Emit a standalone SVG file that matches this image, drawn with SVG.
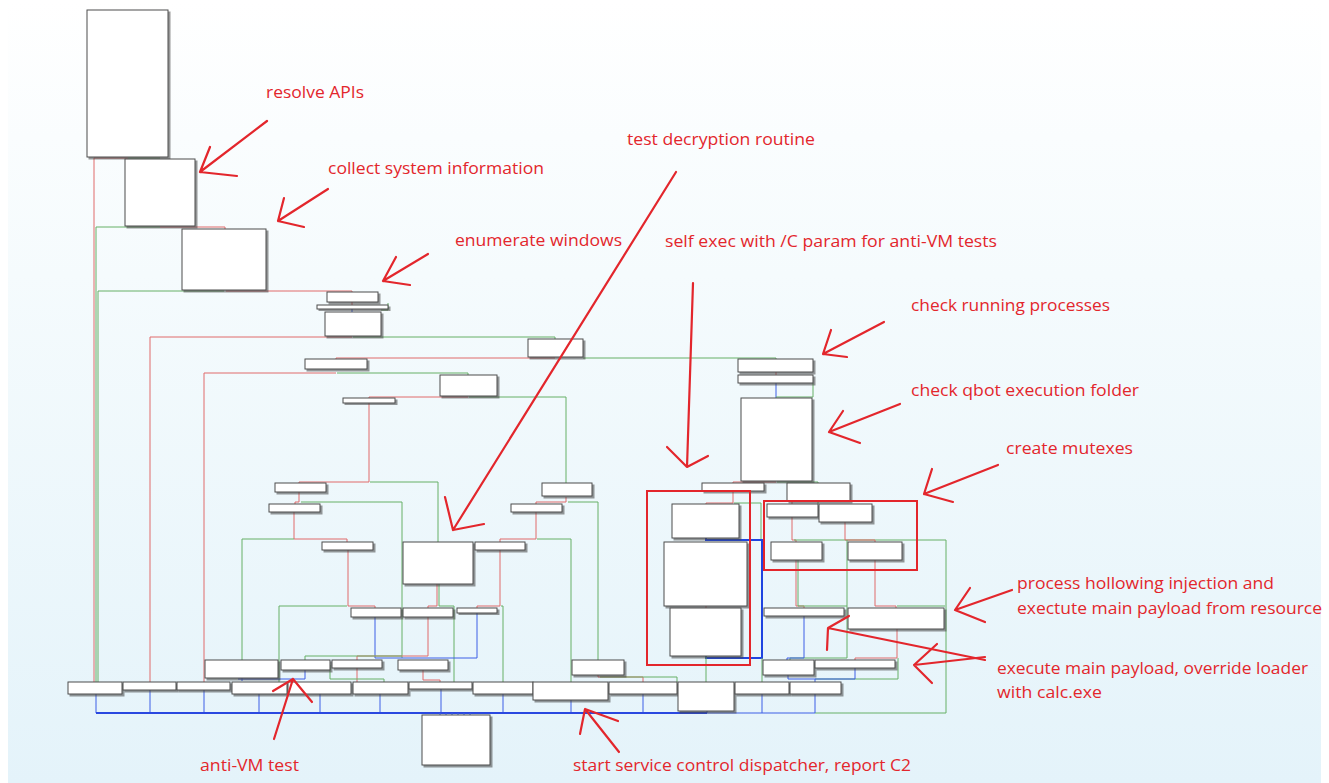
<svg xmlns="http://www.w3.org/2000/svg" width="1329" height="783" viewBox="0 0 1329 783">
  <defs>
    <linearGradient id="bg" x1="0" y1="0" x2="0" y2="1">
      <stop offset="0" stop-color="#ffffff"/>
      <stop offset="0.35" stop-color="#f5fbfd"/>
      <stop offset="1" stop-color="#e4f3fa"/>
    </linearGradient>
    <filter id="shadow" x="-10%" y="-10%" width="130%" height="140%">
      <feDropShadow dx="2" dy="2" stdDeviation="0.7" flood-color="#444" flood-opacity="0.55"/>
    </filter>
    <style>
      .node rect { fill: #ffffff; stroke: #4d4d4d; stroke-width: 1; filter: url(#shadow); }
      .e { fill: none; stroke-width: 1; }
      .r { stroke: #e06a6a; }
      .g { stroke: #66b066; }
      .b { stroke: #3c5ee6; }
      .loop { stroke: #1f44e0; stroke-width: 2; fill: none; }
      .bus { stroke: #2a48e0; stroke-width: 2; fill: none; }
      .note { fill: #e3262c; font-family: "Open Sans", "Noto Sans", sans-serif; font-size: 16.5px; }
      .mark { fill: none; stroke: #e3262c; stroke-width: 2.2; stroke-linecap: round; stroke-linejoin: round; }
      .hl { fill: none; stroke: #e3262c; stroke-width: 2; }
    </style>
  </defs>

  <rect x="0" y="0" width="1329" height="783" fill="#ffffff"/>
  <rect x="8" y="0" width="1313" height="783" fill="url(#bg)"/>

  <!-- control-flow edges -->
  <g id="edges">
    <!-- entry chain -->
    <path class="e r" d="M94,158 H128"/>
    <path class="e g" d="M128,158 H160"/>
    <path class="e r" d="M94,158 V682"/>
    <path class="e g" d="M96,227 H160"/>
    <path class="e r" d="M160,227 H225 V229"/>
    <path class="e g" d="M96,227 V682"/>
    <path class="e g" d="M98,291 H224"/>
    <path class="e g" d="M98,291 V682"/>
    <path class="e r" d="M226,291 H352 V292"/>
    <path class="e r" d="M352,302 V305"/>
    <path class="e b" d="M352,309 V312"/>
    <path class="e g" d="M388,303 V310 H381"/>
    <!-- upper dispatch -->
    <path class="e r" d="M352,337 H150 V682"/>
    <path class="e g" d="M353,337 H555 V339"/>
    <path class="e r" d="M555,358 H336 V359"/>
    <path class="e g" d="M583,358 H776 V359"/>
    <path class="e r" d="M336,373 H204 V682"/>
    <path class="e g" d="M337,373 H468 V375"/>
    <path class="e r" d="M468,397 H369 V398"/>
    <path class="e g" d="M469,397 H566 V483"/>
    <path class="e r" d="M369,403 V482 H299 V483"/>
    <path class="e g" d="M370,482 H438 V542"/>
    <!-- left subtree -->
    <path class="e r" d="M299,492 V502 H295 V504"/>
    <path class="e g" d="M301,502 H402 V658"/>
    <path class="e r" d="M294,512 V539 H347 V542"/>
    <path class="e g" d="M294,539 H242 V660"/>
    <path class="e r" d="M348,550 V606 H375 V608"/>
    <path class="e g" d="M347,606 H279 V682"/>
    <path class="e r" d="M437,584 V606 H428 V608"/>
    <path class="e g" d="M439,584 V606 H454 V682"/>
    <path class="e r" d="M500,550 V606 H477 V608"/>
    <path class="e g" d="M501,606 H503 V682"/>
    <path class="e r" d="M566,497 V502 H536 V504"/>
    <path class="e g" d="M568,502 H598 V660"/>
    <path class="e r" d="M536,512 V539 H500 V542"/>
    <path class="e g" d="M537,539 H571 V682"/>
    <path class="e b" d="M375,617 V658 H477 V613"/>
    <path class="e r" d="M428,617 V656 H357 V682"/>
    <path class="e g" d="M305,656 H402"/>
    <path class="e g" d="M305,656 V660"/>
    <path class="e r" d="M423,670 V680 H440 V682"/>
    <path class="e g" d="M330,665 V679 H384 V682"/>
    <path class="e b" d="M242,678 V681"/>
    <path class="e b" d="M305,670 V679 H238"/>
    <path class="e r" d="M598,675 V677 H643 V682"/>
    <path class="e g" d="M600,677 H677 V682"/>
    <!-- right subtree -->
    <path class="e r" d="M776,372 V375"/>
    <path class="e b" d="M776,383 V398"/>
    <path class="e g" d="M813,383 V397 H776"/>
    <path class="e r" d="M776,482 H733 V483"/>
    <path class="e g" d="M777,482 H818 V483"/>
    <path class="e r" d="M733,491 V503 H706 V504"/>
    <path class="e g" d="M734,503 H761 V540"/>
    <path class="loop" d="M706,538 V540 H762 V658 H706 V656"/>
    <path class="e r" d="M706,606 V608"/>
    <path class="e g" d="M706,656 V682"/>
    <path class="e g" d="M762,658 V682"/>
    <path class="e r" d="M792,501 V504"/>
    <path class="e g" d="M818,501 V504"/>
    <path class="e r" d="M792,517 V540 H796 V542"/>
    <path class="e g" d="M794,540 H946 V713 H815"/>
    <path class="e r" d="M845,522 V540 H875 V542"/>
    <path class="e g" d="M847,540 V658 H790 V660"/>
    <path class="e r" d="M796,560 V606 H804 V608"/>
    <path class="e g" d="M798,560 V606 H847"/>
    <path class="e r" d="M875,560 V606 H896 V608"/>
    <path class="e g" d="M897,606 H945"/>
    <path class="e b" d="M804,616 V658 H787 V660"/>
    <path class="e r" d="M897,629 V658 H855 V660"/>
    <path class="e g" d="M898,658 V679 H815"/>
    <path class="e b" d="M788,675 V679 H855 V668"/>
    <path class="e b" d="M815,679 V682"/>
    <!-- exits into the common tail block -->
    <path class="e b" d="M96,694 V713 M150,690 V713 M204,690 V713 M259,694 V713 M320,694 V713 M380,694 V713 M441,689 V713 M503,694 V713 M571,700 V713 M643,694 V713 M707,711 V713 M762,694 V713 M815,694 V713"/>
    <path class="bus" d="M96,713 H707"/>
    <path class="e b" d="M707,713 H815"/>
    <path class="e b" d="M440,713 V715 M446,713 V715 M452,713 V715 M458,713 V715 M464,713 V715 M470,713 V715"/>
  </g>

  <!-- basic blocks -->
  <g id="n01" class="node"><rect x="87" y="10" width="81" height="147"/></g>
  <g id="n02" class="node"><rect x="125" y="159" width="70" height="67"/></g>
  <g id="n03" class="node"><rect x="182" y="229" width="84" height="61"/></g>
  <g id="n04" class="node"><rect x="327" y="292" width="51" height="10"/></g>
  <g id="n05" class="node"><rect x="317" y="305" width="71" height="4"/></g>
  <g id="n06" class="node"><rect x="325" y="312" width="56" height="24"/></g>
  <g id="n07" class="node"><rect x="528" y="339" width="55" height="18"/></g>
  <g id="n08" class="node"><rect x="305" y="359" width="62" height="10"/></g>
  <g id="n09" class="node"><rect x="440" y="375" width="57" height="21"/></g>
  <g id="n10" class="node"><rect x="343" y="398" width="52" height="5"/></g>
  <g id="n11" class="node"><rect x="738" y="359" width="75" height="13"/></g>
  <g id="n12" class="node"><rect x="738" y="375" width="75" height="8"/></g>
  <g id="n13" class="node"><rect x="741" y="398" width="71" height="83"/></g>
  <g id="n14" class="node"><rect x="702" y="483" width="62" height="8"/></g>
  <g id="n15" class="node"><rect x="787" y="483" width="63" height="18"/></g>
  <g id="n16" class="node"><rect x="275" y="483" width="51" height="9"/></g>
  <g id="n17" class="node"><rect x="542" y="483" width="50" height="13"/></g>
  <g id="n18" class="node"><rect x="269" y="504" width="51" height="8"/></g>
  <g id="n19" class="node"><rect x="511" y="504" width="51" height="8"/></g>
  <g id="n20" class="node"><rect x="322" y="542" width="51" height="8"/></g>
  <g id="n21" class="node"><rect x="403" y="542" width="70" height="42"/></g>
  <g id="n22" class="node"><rect x="475" y="542" width="50" height="8"/></g>
  <g id="n23" class="node"><rect x="672" y="504" width="67" height="34"/></g>
  <g id="n24" class="node"><rect x="664" y="542" width="83" height="64"/></g>
  <g id="n25" class="node"><rect x="670" y="608" width="71" height="48"/></g>
  <g id="n26" class="node"><rect x="767" y="504" width="51" height="13"/></g>
  <g id="n27" class="node"><rect x="819" y="504" width="53" height="18"/></g>
  <g id="n28" class="node"><rect x="771" y="542" width="51" height="18"/></g>
  <g id="n29" class="node"><rect x="848" y="542" width="54" height="18"/></g>
  <g id="n30" class="node"><rect x="351" y="608" width="50" height="9"/></g>
  <g id="n31" class="node"><rect x="403" y="608" width="50" height="9"/></g>
  <g id="n32" class="node"><rect x="457" y="608" width="40" height="5"/></g>
  <g id="n33" class="node"><rect x="764" y="608" width="80" height="8"/></g>
  <g id="n34" class="node"><rect x="848" y="608" width="96" height="21"/></g>
  <g id="n35" class="node"><rect x="205" y="660" width="73" height="18"/></g>
  <g id="n36" class="node"><rect x="281" y="660" width="49" height="10"/></g>
  <g id="n37" class="node"><rect x="332" y="660" width="50" height="8"/></g>
  <g id="n38" class="node"><rect x="398" y="660" width="50" height="10"/></g>
  <g id="n39" class="node"><rect x="572" y="660" width="52" height="15"/></g>
  <g id="n40" class="node"><rect x="763" y="660" width="51" height="15"/></g>
  <g id="n41" class="node"><rect x="815" y="660" width="80" height="8"/></g>
  <g id="b01" class="node"><rect x="68" y="682" width="54" height="12"/></g>
  <g id="b02" class="node"><rect x="123" y="682" width="53" height="8"/></g>
  <g id="b03" class="node"><rect x="177" y="682" width="53" height="8"/></g>
  <g id="b04" class="node"><rect x="232" y="682" width="55" height="12"/></g>
  <g id="b05" class="node"><rect x="288" y="682" width="63" height="12"/></g>
  <g id="b06" class="node"><rect x="353" y="682" width="55" height="12"/></g>
  <g id="b07" class="node"><rect x="409" y="682" width="63" height="7"/></g>
  <g id="b08" class="node"><rect x="473" y="682" width="60" height="12"/></g>
  <g id="b09" class="node"><rect x="533" y="682" width="75" height="18"/></g>
  <g id="b10" class="node"><rect x="609" y="682" width="68" height="12"/></g>
  <g id="b11" class="node"><rect x="678" y="682" width="56" height="29"/></g>
  <g id="b12" class="node"><rect x="735" y="682" width="54" height="12"/></g>
  <g id="b13" class="node"><rect x="790" y="682" width="51" height="12"/></g>
  <g id="tail" class="node"><rect x="422" y="715" width="68" height="50"/></g>

  <!-- highlighted regions -->
  <g id="hl-selfexec"><rect class="hl" x="647" y="491" width="103" height="174"/></g>
  <g id="hl-mutex"><rect class="hl" x="764" y="501" width="153" height="69"/></g>

  <!-- annotation arrows -->
  <g id="marks">
    <path class="mark" d="M267,121 L200,172 M210,147 L200,172 L237,176"/>
    <path class="mark" d="M328,189 L278,221 M284,198 L278,221 L304,227"/>
    <path class="mark" d="M428,254 L383,281 M396,257 L383,281 L410,285"/>
    <path class="mark" d="M676,172 L453,530 M445,497 L453,530 L484,524"/>
    <path class="mark" d="M693,283 L687,467 M667,447 L687,467 L708,456"/>
    <path class="mark" d="M884,322 L823,354 M831,330 L823,354 L847,357"/>
    <path class="mark" d="M900,404 L829,432 M843,411 L829,432 L860,443"/>
    <path class="mark" d="M998,465 L924,494 M932,469 L924,494 L953,502"/>
    <path class="mark" d="M1012,590 L955,610 M970,588 L955,610 L985,622"/>
    <path class="mark" d="M985,660 L828,628 M849,616 L828,628 L827,650"/>
    <path class="mark" d="M985,657 L914,665 M937,644 L914,665 L932,683"/>
    <path class="mark" d="M274,739 L293,679 M273,691 L293,679 L312,702"/>
    <path class="mark" d="M619,752 L585,709 M580,734 L585,709 L618,721"/>
  </g>

  <!-- annotation texts -->
  <g id="notes">
    <text class="note" x="266" y="98" textLength="98" lengthAdjust="spacingAndGlyphs">resolve APIs</text>
    <text class="note" x="328" y="174" textLength="216" lengthAdjust="spacingAndGlyphs">collect system information</text>
    <text class="note" x="627" y="145" textLength="188" lengthAdjust="spacingAndGlyphs">test decryption routine</text>
    <text class="note" x="455" y="246" textLength="167" lengthAdjust="spacingAndGlyphs">enumerate windows</text>
    <text class="note" x="665" y="247" textLength="332" lengthAdjust="spacingAndGlyphs">self exec with /C param for anti-VM tests</text>
    <text class="note" x="911" y="311" textLength="199" lengthAdjust="spacingAndGlyphs">check running processes</text>
    <text class="note" x="911" y="396" textLength="228" lengthAdjust="spacingAndGlyphs">check qbot execution folder</text>
    <text class="note" x="1006" y="454" textLength="127" lengthAdjust="spacingAndGlyphs">create mutexes</text>
    <text class="note" x="1017" y="589" textLength="257" lengthAdjust="spacingAndGlyphs">process hollowing injection and</text>
    <text class="note" x="1017" y="614" textLength="305" lengthAdjust="spacingAndGlyphs">exectute main payload from resource</text>
    <text class="note" x="997" y="674" textLength="311" lengthAdjust="spacingAndGlyphs">execute main payload, override loader</text>
    <text class="note" x="997" y="698" textLength="105" lengthAdjust="spacingAndGlyphs">with calc.exe</text>
    <text class="note" x="200" y="771" textLength="99" lengthAdjust="spacingAndGlyphs">anti-VM test</text>
    <text class="note" x="573" y="771" textLength="338" lengthAdjust="spacingAndGlyphs">start service control dispatcher, report C2</text>
  </g>
</svg>
